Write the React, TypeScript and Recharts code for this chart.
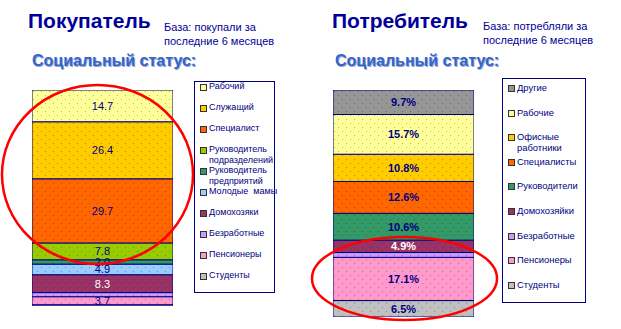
import { BarChart, Bar, XAxis, YAxis, LabelList } from 'recharts';

// Покупатель (сверху вниз)
const buyerCategories = [
  'Рабочий',
  'Служащий',
  'Специалист',
  'Руководитель подразделений',
  'Руководитель предприятий',
  'Молодые  мамы',
  'Домохозяки',
  'Безработные',
  'Пенсионеры',
  'Студенты',
];
const buyerValues = [14.7, 26.4, 29.7, 7.8, 2.0, 4.9, 8.3, 1.9, 3.7, 0.6];
const buyerColors = ['#FFFF99', '#FFCC00', '#FF6600', '#99CC00', '#339966', '#99CCFF', '#993366', '#CC99FF', '#FF99CC', '#C0C0C0'];

// Потребитель (сверху вниз)
const consumerCategories = [
  'Другие',
  'Рабочие',
  'Офисные работники',
  'Специалисты',
  'Руководители',
  'Домохозяйки',
  'Безработные',
  'Пенсионеры',
  'Студенты',
];
const consumerValues = [9.7, 15.7, 10.8, 12.6, 10.6, 4.9, 1.9, 17.1, 6.5];
const consumerColors = ['#969696', '#FFFF99', '#FFCC00', '#FF6600', '#339966', '#993366', '#CC99FF', '#FF99CC', '#C0C0C0'];

const NAVY = '#000080';
const FONT = '"Liberation Sans", Arial, sans-serif';

function Patterns({ prefix, colors }: { prefix: string; colors: string[] }) {
  return (
    <>
      {colors.map((c, i) => (
        <pattern key={i} id={`${prefix}${i}`} width={8} height={8} patternUnits="userSpaceOnUse">
          <rect width={8} height={8} fill={c} />
          <rect x={1} y={1} width={1} height={1} fill="rgba(0,0,0,0.28)" />
          <rect x={5} y={5} width={1} height={1} fill="rgba(0,0,0,0.28)" />
        </pattern>
      ))}
    </>
  );
}

function StackedColumn({
  categories,
  values,
  prefix,
  suffix,
  bold,
  width,
  height,
}: {
  categories: string[];
  values: number[];
  prefix: string;
  suffix: string;
  bold: boolean;
  width: number;
  height: number;
}) {
  const row: Record<string, number | string> = { name: 'all' };
  categories.forEach((c, i) => (row[`s${i}`] = values[i]));
  const order = categories.map((_, i) => i).reverse();

  const makeLabel = (i: number) => (props: any) => {
    const { x, y, width: w, height: h, value } = props;
    if (value < 2) return null;
    return (
      <text
        x={x + w / 2}
        y={y + h / 2}
        dy={4}
        textAnchor="middle"
        fontFamily={FONT}
        fontSize={11}
        fontWeight={bold ? 'bold' : 'normal'}
        fill={categories[i].startsWith('Домох') ? '#FFFFFF' : NAVY}
      >
        {value.toFixed(1) + suffix}
      </text>
    );
  };

  return (
    <BarChart width={width} height={height} data={[row]} margin={{ top: 0, right: 0, bottom: 0, left: 0 }} barCategoryGap={0}>
      <XAxis dataKey="name" hide />
      <YAxis hide domain={[0, 'dataMax']} />
      {order.map((i) => (
        <Bar key={i} dataKey={`s${i}`} stackId="a" fill={`url(#${prefix}${i})`} stroke={NAVY} strokeWidth={1} isAnimationActive={false}>
          <LabelList dataKey={`s${i}`} content={makeLabel(i)} />
        </Bar>
      ))}
    </BarChart>
  );
}

function Legend({
  categories,
  colors,
  left,
  top,
  width,
  height,
  step,
  firstY,
  fontSize,
}: {
  categories: string[];
  colors: string[];
  left: number;
  top: number;
  width: number;
  height: number;
  step: number;
  firstY: number;
  fontSize: number;
}) {
  return (
    <div
      style={{
        position: 'absolute',
        left,
        top,
        width,
        height,
        border: `1px solid ${NAVY}`,
        background: '#fff',
        boxSizing: 'border-box',
      }}
    >
      {categories.map((c, i) => (
        <div
          key={c}
          style={{
            position: 'absolute',
            left: 5,
            top: firstY + i * step - 6,
            display: 'flex',
            alignItems: 'flex-start',
            fontFamily: FONT,
            fontSize,
            lineHeight: '11px',
            color: NAVY,
          }}
        >
          <span
            style={{
              display: 'inline-block',
              width: 5,
              height: 5,
              marginTop: 3,
              marginRight: 2,
              background: colors[i],
              border: '1px solid #333',
              flex: 'none',
            }}
          />
          <span style={{ width: width - 12, whiteSpace: 'pre-wrap' }}>{c}</span>
        </div>
      ))}
    </div>
  );
}

const titleStyle = {
  position: 'absolute' as const,
  fontFamily: FONT,
  fontWeight: 'bold' as const,
  fontSize: 21,
  color: '#000099',
  lineHeight: '24px',
};
const noteStyle = {
  position: 'absolute' as const,
  fontFamily: FONT,
  fontSize: 11,
  color: '#000099',
  lineHeight: '14px',
};
const subStyle = {
  position: 'absolute' as const,
  fontFamily: FONT,
  fontWeight: 'bold' as const,
  fontSize: 16,
  color: '#3366CC',
  lineHeight: '18px',
  textShadow: '1px 1px 0 #99a3c8',
};

export default function App() {
  return (
    <div style={{ position: 'absolute', left: 0, top: 0, width: 621, height: 329, background: '#fff', overflow: 'hidden' }}>
      <svg width={0} height={0} style={{ position: 'absolute' }}>
        <defs>
          <Patterns prefix="pb" colors={buyerColors} />
          <Patterns prefix="pc" colors={consumerColors} />
        </defs>
      </svg>

      <div style={{ ...titleStyle, left: 28, top: 9 }}>Покупатель</div>
      <div style={{ ...noteStyle, left: 164, top: 20 }}>
        База: покупали за
        <br />
        последние 6 месяцев
      </div>
      <div style={{ ...subStyle, left: 32, top: 52 }}>Социальный статус:</div>

      <div style={{ ...titleStyle, left: 332, top: 9 }}>Потребитель</div>
      <div style={{ ...noteStyle, left: 483, top: 19 }}>
        База: потребляли за
        <br />
        последние 6 месяцев
      </div>
      <div style={{ ...subStyle, left: 335, top: 52 }}>Социальный статус:</div>

      <div style={{ position: 'absolute', left: 32, top: 90 }}>
        <StackedColumn categories={buyerCategories} values={buyerValues} prefix="pb" suffix="" bold={false} width={141} height={216} />
      </div>
      <div style={{ position: 'absolute', left: 333, top: 90 }}>
        <StackedColumn categories={consumerCategories} values={consumerValues} prefix="pc" suffix="%" bold width={141} height={227} />
      </div>

      <Legend categories={buyerCategories} colors={buyerColors} left={194} top={81} width={81} height={212} step={21} firstY={5} fontSize={9} />
      <Legend categories={consumerCategories} colors={consumerColors} left={502} top={78} width={84} height={225} step={24.6} firstY={9} fontSize={9.4} />

      <svg width={621} height={329} style={{ position: 'absolute', left: 0, top: 0, pointerEvents: 'none' }}>
        <ellipse cx={97.5} cy={174.5} rx={95.5} ry={89.5} fill="none" stroke="#FF0000" strokeWidth={2.5} />
        <ellipse cx={404.5} cy={278.5} rx={92.5} ry={41.5} fill="none" stroke="#FF0000" strokeWidth={2.5} />
      </svg>
    </div>
  );
}
